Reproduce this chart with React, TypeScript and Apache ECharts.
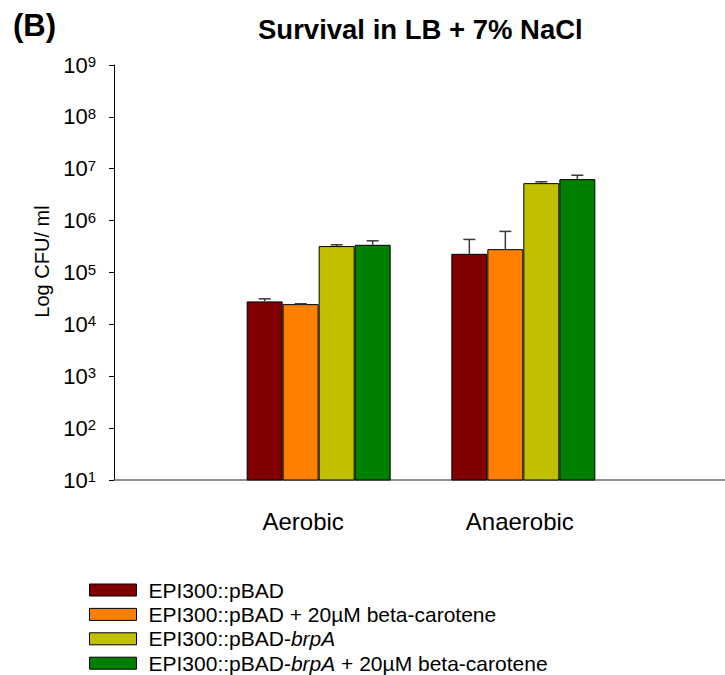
import React, { useEffect, useRef } from "react";
import * as echarts from "echarts";

const categories = ["", "Aerobic", "Anaerobic", ""];
const seriesNames = [
  "EPI300::pBAD",
  "EPI300::pBAD + 20µM beta-carotene",
  "EPI300::pBAD-brpA",
  "EPI300::pBAD-brpA + 20µM beta-carotene",
];
const pbad = [null, 27700, 229000, null];
const pbadBeta = [null, 24600, 282000, null];
const brpA = [null, 323000, 5280000, null];
const brpABeta = [null, 342000, 6310000, null];
const pbadUpper = [null, 31100, 434000, null];
const pbadBetaUpper = [null, 25000, 620000, null];
const brpAUpper = [null, 342000, 5600000, null];
const brpABetaUpper = [null, 408000, 7500000, null];

const values = [pbad, pbadBeta, brpA, brpABeta];
const uppers = [pbadUpper, pbadBetaUpper, brpAUpper, brpABetaUpper];
const colors = ["#800000", "#FF8000", "#C0C000", "#008000"];
const FONT = "'Liberation Sans', Arial, sans-serif";
const BAR_W = 36;

export default function App() {
  const ref = useRef<HTMLDivElement>(null);
  useEffect(() => {
    if (!ref.current) return;
    const chart = echarts.init(ref.current, null, { renderer: "svg" });
    const barSeries = seriesNames.map((name, i) => ({
      name,
      type: "bar",
      data: values[i],
      barWidth: BAR_W,
      barGap: "0%",
      clip: true,
      itemStyle: { color: colors[i], borderColor: "#000", borderWidth: 1 },
    }));
    const errSeries = seriesNames.map((name, i) => ({
      type: "custom",
      name: name + "_err",
      clip: true,
      data: categories
        .map((_, c) => [c, values[i][c], uppers[i][c]])
        .filter((d) => d[1] != null),
      encode: { x: 0, y: [1, 2] },
      renderItem: (params: any, api: any) => {
        const c = api.value(0);
        const v = api.value(1);
        const u = api.value(2);
        const p0 = api.coord([c, v]);
        const p1 = api.coord([c, u]);
        const x = p0[0] + (i - 1.5) * BAR_W;
        const style = { stroke: "#3a3a3a", lineWidth: 1.5 };
        return {
          type: "group",
          children: [
            { type: "line", shape: { x1: x, y1: p0[1], x2: x, y2: p1[1] }, style },
            { type: "line", shape: { x1: x - 6, y1: p1[1], x2: x + 6, y2: p1[1] }, style },
          ],
        };
      },
      z: 3,
    }));
    chart.setOption({
      animation: false,
      textStyle: { fontFamily: FONT },
      title: [
        {
          text: "(B)",
          left: 13,
          top: 10,
          padding: 0,
          textStyle: { fontSize: 31, fontWeight: "bold", color: "#000", fontFamily: FONT },
        },
        {
          text: "Survival in LB + 7% NaCl",
          left: 258,
          top: 15,
          padding: 0,
          textStyle: { fontSize: 27.5, fontWeight: "bold", color: "#000", fontFamily: FONT },
        },
      ],
      legend: {
        data: seriesNames,
        orient: "vertical",
        left: 89,
        top: 579.5,
        height: 140,
        width: 600,
        padding: 0,
        itemWidth: 47,
        itemHeight: 12,
        itemGap: 3.4,
        icon: "rect",
        itemStyle: { borderColor: "#000", borderWidth: 1 },
        textStyle: {
          fontSize: 21,
          color: "#000",
          fontFamily: FONT,
          padding: [0, 0, 0, 7],
          rich: {
            i: { fontStyle: "italic", fontSize: 21, color: "#000", fontFamily: FONT },
          },
        },
        formatter: (name: string) => name.replace("brpA", "{i|brpA}"),
      },
      grid: { left: 114, top: 65, right: 0, bottom: 675 - 480, containLabel: false },
      xAxis: {
        type: "category",
        data: categories,
        boundaryGap: false,
        axisLine: { lineStyle: { color: "#6e6e6e", width: 1.5 } },
        axisTick: { show: false },
        axisLabel: {
          interval: 0,
          margin: 29,
          fontSize: 24,
          color: "#000",
          fontFamily: FONT,
          formatter: (v: string) =>
            v === "Aerobic" ? "{a|" + v + "}" : v === "Anaerobic" ? "{b|" + v + "}" : v,
          rich: {
            a: { padding: [0, 31, 0, 0], fontSize: 24, color: "#000", fontFamily: FONT },
            b: { padding: [0, 7, 0, 0], fontSize: 24, color: "#000", fontFamily: FONT },
          },
        },
        splitLine: { show: false },
      },
      yAxis: {
        type: "log",
        logBase: 10,
        min: 10,
        max: 1e9,
        splitNumber: 8,
        name: "Log CFU/ ml",
        nameLocation: "middle",
        nameGap: 61,
        nameTextStyle: { fontSize: 20, color: "#000", fontFamily: FONT, padding: [0, 0, 0, 22] },
        axisLine: { show: true, lineStyle: { color: "#000", width: 1 } },
        axisTick: { show: true, length: 5, lineStyle: { color: "#000" } },
        splitLine: { show: false },
        axisLabel: {
          margin: 18,
          color: "#000",
          fontFamily: FONT,
          formatter: (v: number) => "{b|10}{s|" + Math.round(Math.log10(v)) + "}",
          rich: {
            b: { fontSize: 22, color: "#000", fontFamily: FONT },
            s: { fontSize: 15, color: "#000", fontFamily: FONT, verticalAlign: "top" },
          },
        },
      },
      series: [...barSeries, ...errSeries],
    });
    return () => chart.dispose();
  }, []);
  return (
    <div
      style={{ position: "absolute", left: 0, top: 0, width: 725, height: 675, overflow: "hidden" }}
    >
      <div ref={ref} style={{ width: 731, height: 675 }} />
    </div>
  );
}
